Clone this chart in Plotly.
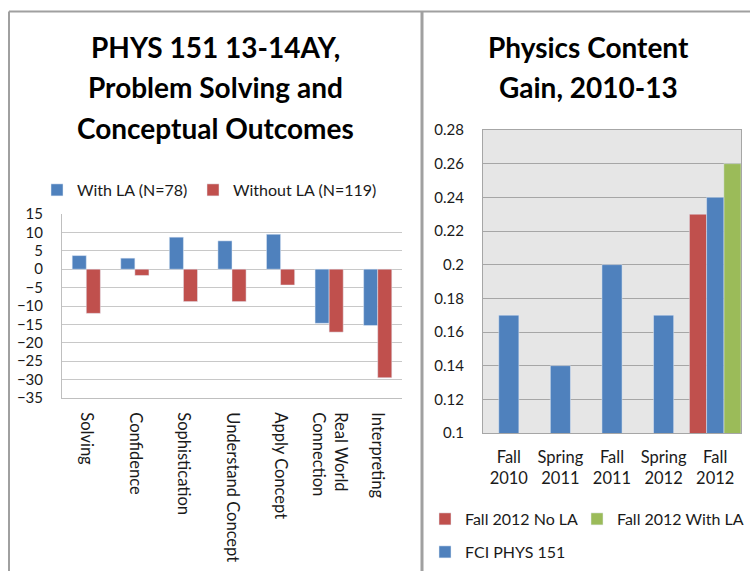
import plotly.graph_objects as go

# ---- Left panel: problem solving / conceptual outcomes (% change) ----
outcomes = ["Solving", "Confidence", "Sophistication", "Understand Concept",
            "Apply Concept", "Real World Connection", "Interpreting"]
outcome_ticks = ["Solving", "Confidence", "Sophistication", "Understand Concept",
                 "Apply Concept", "Real World<br>Connection", "Interpreting"]
with_la = [3.7, 3.0, 8.7, 7.7, 9.5, -14.7, -15.3]
without_la = [-12.0, -1.7, -8.8, -8.8, -4.3, -17.1, -29.5]

# ---- Right panel: physics content gain ----
terms = ["Fall 2010", "Spring 2011", "Fall 2011", "Spring 2012", "Fall 2012"]
fci_gain = [0.17, 0.14, 0.20, 0.17, 0.24]
fall12_no_la = [0.23]
fall12_with_la = [0.26]
gain_ticks = [0.10, 0.12, 0.14, 0.16, 0.18, 0.20, 0.22, 0.24, 0.26, 0.28]
gain_tick_text = ["0.1", "0.12", "0.14", "0.16", "0.18", "0.2", "0.22", "0.24", "0.26", "0.28"]

BLUE = "#4f81bd"
RED = "#c0504d"
GREEN = "#9bbb59"
FONT = "Lato"
TXT = "#1a1a1a"

W, H = 750, 571

fig = go.Figure()

bw = 0.29
fig.add_trace(go.Bar(x=outcomes, y=with_la, name="With LA (N=78)", marker_color=BLUE,
                     width=bw, offset=-bw, xaxis="x", yaxis="y", legend="legend"))
fig.add_trace(go.Bar(x=outcomes, y=without_la, name="Without LA (N=119)", marker_color=RED,
                     width=bw, offset=0, xaxis="x", yaxis="y", legend="legend2"))

# Right panel bars; the Fall 2012 slot is split three ways
n = len(terms)
blue_w = [0.39] * (n - 1) + [1 / 3]
blue_off = [-w / 2 for w in blue_w]
fig.add_trace(go.Bar(x=terms[-1:], y=fall12_no_la, name="Fall 2012 No LA", marker_color=RED,
                     width=1 / 3, offset=-0.5, xaxis="x2", yaxis="y2", legend="legend3",
                     base=0))
fig.add_trace(go.Bar(x=terms[-1:], y=fall12_with_la, name="Fall 2012 With LA", marker_color=GREEN,
                     width=1 / 3, offset=1 / 6, xaxis="x2", yaxis="y2", legend="legend4",
                     base=0))
fig.add_trace(go.Bar(x=terms, y=fci_gain, name="FCI PHYS 151", marker_color=BLUE,
                     width=blue_w, offset=blue_off, xaxis="x2", yaxis="y2", legend="legend5",
                     base=0))


def px(v):
    return v / W


def py(v):
    return 1 - v / H


ytick_font = dict(family=FONT, size=15, color=TXT)
xtick_font = dict(family=FONT, size=16.5, color=TXT)
legend_font = dict(family=FONT, size=16, color=TXT)


def legend_at(x, y):
    return dict(orientation="h", x=px(x), y=py(y), xanchor="left", yanchor="middle",
                font=legend_font, itemwidth=30, bgcolor="rgba(0,0,0,0)")


fig.update_layout(
    width=W, height=H,
    margin=dict(l=0, r=0, t=0, b=0, autoexpand=False),
    paper_bgcolor="white",
    barmode="overlay",
    font=dict(family=FONT, color=TXT),
    xaxis=dict(domain=[px(62), px(402)], anchor="y", type="category",
               categoryorder="array", categoryarray=outcomes,
               tickvals=outcomes, ticktext=outcome_ticks, tickangle=90,
               tickfont=xtick_font, ticks="", showline=True, linecolor="#bfbfbf",
               linewidth=1, showgrid=False, ticklabelstandoff=10),
    yaxis=dict(domain=[py(398), py(214)], anchor="x", range=[-35, 15], dtick=5,
               tickfont=ytick_font, showgrid=True, gridcolor="#c8c8c8", gridwidth=1,
               zeroline=True, zerolinecolor="#c8c8c8", zerolinewidth=1,
               showline=True, linecolor="#bfbfbf", linewidth=1, ticks="",
               ticklabelstandoff=15),
    xaxis2=dict(domain=[px(483), px(741)], anchor="y2", type="category",
                categoryorder="array", categoryarray=terms,
                tickvals=terms, ticktext=[t.replace(" ", "<br>") for t in terms],
                tickfont=xtick_font, ticks="", showline=True, linecolor="#a6a6a6",
                mirror=True, showgrid=False, ticklabelstandoff=9),
    yaxis2=dict(domain=[py(433), py(130)], anchor="x2", range=[0.1, 0.28],
                tickvals=gain_ticks, ticktext=gain_tick_text, tickfont=ytick_font,
                showgrid=True, gridcolor="#a6a6a6", gridwidth=1, zeroline=False,
                showline=True, linecolor="#a6a6a6", mirror=True, ticks="",
                ticklabelstandoff=15),
    plot_bgcolor="#e6e6e6",
    legend=legend_at(37, 190),
    legend2=legend_at(193, 190),
    legend3=legend_at(425, 519),
    legend4=legend_at(577, 519),
    legend5=legend_at(425, 552),
    showlegend=True,
)

# Plot area background only on the right chart: cover the left one in white
fig.add_shape(type="rect", xref="x domain", yref="y domain", x0=0, x1=1, y0=0, y1=1,
              fillcolor="white", line_width=0, layer="below")

# Titles, one annotation per line
title_lines = [
    ("PHYS 151 13-14AY,", 215, 47),
    ("Problem Solving and", 215, 87),
    ("Conceptual Outcomes", 215, 128),
    ("Physics Content", 588, 47),
    ("Gain, 2010-13", 588, 87),
]
for text, cx, cy in title_lines:
    fig.add_annotation(text=f"<b>{text}</b>", xref="paper", yref="paper",
                       x=px(cx), y=py(cy), xanchor="center", yanchor="middle",
                       showarrow=False, font=dict(family=FONT, size=28, color="black"))

# Panel frames
frame = "#a0a0a0"
fig.add_shape(type="line", xref="paper", yref="paper", x0=px(9), x1=1, y0=py(11.5), y1=py(11.5),
              line=dict(color=frame, width=2))
fig.add_shape(type="line", xref="paper", yref="paper", x0=px(9), x1=px(9), y0=py(11.5), y1=0,
              line=dict(color=frame, width=2))
fig.add_shape(type="line", xref="paper", yref="paper", x0=px(422), x1=px(422), y0=py(11.5), y1=0,
              line=dict(color=frame, width=3))

fig.write_html("out.html")
